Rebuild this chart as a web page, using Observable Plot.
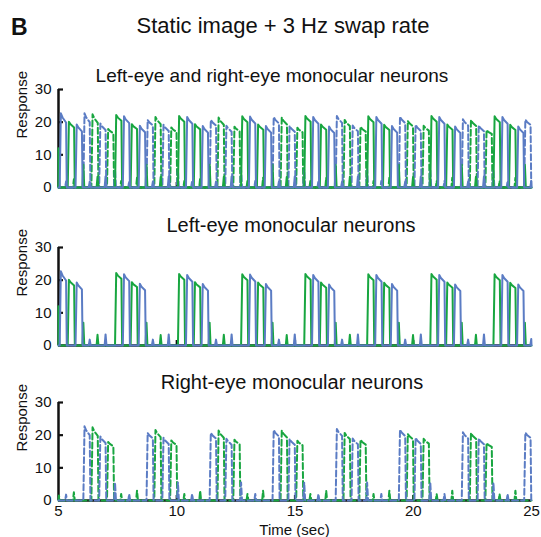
<!DOCTYPE html>
<html><head><meta charset="utf-8">
<script src="https://cdn.jsdelivr.net/npm/d3@7"></script>
<script src="https://cdn.jsdelivr.net/npm/@observablehq/plot@0.6"></script>
<style>
body{margin:0;background:#fff;}
#wrap{position:relative;width:541px;height:537px;overflow:hidden;background:#fff;}
.panel{position:absolute;left:0;}
#titles{position:absolute;left:0;top:0;pointer-events:none;}
</style></head><body>
<div id="wrap"></div>
<script>
// ---- data ----
const xTicks = [5, 10, 15, 20, 25];
const yTicks = [0, 10, 20, 30];

// Left-eye monocular neurons (solid lines): dominant pulses
const leftGreenOn   = [5.39, 7.39, 8.05, 10.05, 10.72, 12.72, 13.39, 15.39, 16.05, 18.05, 18.72, 20.72, 21.39, 23.39, 24.05];
const leftGreenPeak = [20.1, 22.2, 19.4, 21.9, 19.4, 21.8, 19.3, 21.9, 19.3, 21.8, 19.2, 21.9, 19.3, 21.8, 19.2];
const leftGreenEnd  = [18.4, 20.4, 17.9, 20.1, 17.8, 20.0, 17.7, 20.1, 17.7, 20.0, 17.6, 20.1, 17.7, 20.0, 17.6];
const leftGreenBumpT = [5.0, 6.05, 6.65, 8.72, 9.32, 11.39, 11.99, 14.05, 14.65, 16.72, 17.32, 19.39, 19.99, 22.05, 22.65, 24.72];
const leftGreenBumpH = [12, 7, 3.3, 7, 3.2, 7, 3.3, 7, 3.2, 7, 3.3, 7, 3.2, 7, 3.3, 7];

const leftBlueOn   = [5.05, 5.72, 7.72, 8.39, 10.39, 11.05, 13.05, 13.72, 15.72, 16.39, 18.39, 19.05, 21.05, 21.72, 23.72, 24.39];
const leftBluePeak = [22.7, 19.3, 21.8, 18.9, 21.6, 18.8, 21.7, 18.8, 21.6, 18.7, 21.6, 18.8, 21.6, 18.7, 21.6, 18.7];
const leftBlueEnd  = [19.9, 17.2, 19.7, 16.9, 19.5, 16.8, 19.6, 16.8, 19.5, 16.7, 19.5, 16.8, 19.5, 16.7, 19.5, 16.7];
const leftBlueBumpT = [6.32, 6.99, 8.99, 9.66, 11.66, 12.32, 14.32, 14.99, 16.99, 17.66, 19.66, 20.32, 22.32, 22.99, 24.99];
const leftBlueBumpH = [1.8, 3.4, 1.8, 3.4, 1.8, 3.4, 1.8, 3.4, 1.8, 3.4, 1.8, 3.4, 1.8, 3.4, 2.0];

// Right-eye monocular neurons (dashed lines)
const rightBlueOn   = [6.05, 6.72, 8.72, 9.39, 11.39, 12.05, 14.05, 14.72, 16.72, 17.39, 19.39, 20.05, 22.05, 22.72, 24.69];
const rightBluePeak = [22.7, 19.6, 20.7, 19.2, 20.7, 18.9, 21.6, 18.9, 21.9, 19.0, 21.7, 19.2, 20.9, 19.0, 20.8];
const rightBlueEnd  = [20.0, 17.6, 19.0, 17.3, 19.0, 17.1, 19.6, 17.1, 19.8, 17.2, 19.7, 17.3, 19.0, 17.2, 19.2];
const rightBlueBumpT = [5.32, 7.39, 7.99, 10.05, 10.65, 12.72, 13.32, 15.39, 15.99, 18.05, 18.65, 20.72, 21.32, 23.39, 23.99];
const rightBlueBumpH = [1.8, 5.5, 2.0, 5.5, 2.0, 5.5, 2.0, 5.5, 2.0, 5.5, 2.0, 5.5, 2.0, 5.5, 2.0];

const rightGreenOn   = [6.39, 7.05, 9.05, 9.72, 11.72, 12.39, 14.39, 15.05, 17.05, 17.72, 19.72, 20.39, 22.39, 23.05];
const rightGreenPeak = [22.4, 17.9, 21.6, 18.4, 21.4, 18.6, 21.4, 18.3, 20.7, 18.6, 20.4, 18.9, 20.7, 17.6];
const rightGreenEnd  = [19.8, 16.6, 19.4, 17.0, 19.2, 17.2, 19.3, 16.9, 18.8, 17.1, 18.7, 17.4, 18.8, 16.4];
const rightGreenBumpT = [5.02, 5.65, 7.65, 8.32, 10.32, 10.99, 12.99, 13.65, 15.65, 16.32, 18.32, 18.99, 20.99, 21.65, 23.65, 24.32];
const rightGreenBumpH = [1.5, 2.5, 2.0, 3.0, 2.0, 3.0, 2.0, 3.0, 2.0, 3.0, 2.0, 3.0, 2.0, 3.0, 2.0, 3.0];

// ---- build line tables ----
function build(on, peak, end, bumpT, bumpH) {
  const pts = [{t: 5, v: 0}];
  on.forEach((o, i) => {
    const p = peak[i], e = end[i];
    pts.push({t: o, v: 0}, {t: o + 0.05, v: p}, {t: o + 0.12, v: p - 0.45 * (p - e)},
             {t: o + 0.27, v: e}, {t: o + 0.30, v: 0});
  });
  bumpT.forEach((b, i) => pts.push({t: b - 0.04, v: 0}, {t: b, v: bumpH[i]}, {t: b + 0.04, v: 0}));
  pts.push({t: 25, v: 0});
  return pts.filter(d => d.t >= 5 && d.t <= 25).sort((a, b) => a.t - b.t);
}
const LG = build(leftGreenOn, leftGreenPeak, leftGreenEnd, leftGreenBumpT, leftGreenBumpH);
const LB = build(leftBlueOn, leftBluePeak, leftBlueEnd, leftBlueBumpT, leftBlueBumpH);
const RB = build(rightBlueOn, rightBluePeak, rightBlueEnd, rightBlueBumpT, rightBlueBumpH);
const RG = build(rightGreenOn, rightGreenPeak, rightGreenEnd, rightGreenBumpT, rightGreenBumpH);

const GREEN = "#18a640", BLUE = "#5b7cc4", AX = "#111";
const FONT = "Liberation Sans, Arial, Helvetica, sans-serif";

function lineMark(data, color, dashed) {
  return Plot.line(data, {x: "t", y: "v", stroke: color, strokeWidth: 2,
    strokeDasharray: dashed ? "6,3" : null, strokeLinejoin: "round"});
}

function panel(top, lines, showX) {
  const mt = 10, mb = showX ? 30 : 10;
  const marks = [
    Plot.ruleY([0], {x1: 5, x2: 25, stroke: AX, strokeWidth: 2.5}),
    Plot.ruleX([5], {y1: 0, y2: 30, stroke: AX, strokeWidth: 2.5}),
    Plot.ruleY(yTicks.filter(v => v > 0), {x1: 5, x2: 5, insetRight: -5, stroke: AX, strokeWidth: 2.2}),
    Plot.ruleX(xTicks.slice(1, -1), {y1: 0, y2: 0, insetBottom: 5, stroke: AX, strokeWidth: 2.2}),
    Plot.axisY({ticks: yTicks, tickSize: 0, tickPadding: 7, fontSize: 15, label: null}),
    Plot.text(["Response"], {text: d => d, frameAnchor: "left", dx: -36, rotate: -90, fontSize: 15, fill: AX}),
    ...lines
  ];
  if (showX) marks.push(Plot.axisX({ticks: xTicks, tickSize: 0, tickPadding: 5, fontSize: 15, label: null}));
  const svg = Plot.plot({
    width: 541, height: 98 + mt + mb,
    marginLeft: 58, marginRight: 10, marginTop: mt, marginBottom: mb,
    x: {domain: [5, 25], axis: showX ? undefined : null},
    y: {domain: [0, 30]},
    style: {fontFamily: FONT, fontSize: "15px", color: AX, background: "white", overflow: "visible"},
    marks
  });
  svg.classList.add("panel");
  svg.style.position = "absolute";
  svg.style.top = (top - mt) + "px";
  svg.style.left = "0px";
  return svg;
}

const wrap = document.getElementById("wrap");
wrap.appendChild(panel(89, [lineMark(RG, GREEN, true), lineMark(RB, BLUE, true), lineMark(LG, GREEN, false), lineMark(LB, BLUE, false)], false));
wrap.appendChild(panel(247, [lineMark(LG, GREEN, false), lineMark(LB, BLUE, false)], false));
wrap.appendChild(panel(402, [lineMark(RG, GREEN, true), lineMark(RB, BLUE, true)], true));

// titles
const ns = "http://www.w3.org/2000/svg";
const tsvg = document.createElementNS(ns, "svg");
tsvg.setAttribute("id", "titles");
tsvg.setAttribute("width", 541); tsvg.setAttribute("height", 537);
const texts = [
  {x: 11, y: 35, s: 23, w: "bold", a: "start", t: "B"},
  {x: 283, y: 33, s: 22, a: "middle", t: "Static image + 3 Hz swap rate"},
  {x: 272, y: 82, s: 19, a: "middle", t: "Left-eye and right-eye monocular neurons"},
  {x: 291, y: 232, s: 20, a: "middle", t: "Left-eye monocular neurons"},
  {x: 292, y: 389, s: 20, a: "middle", t: "Right-eye monocular neurons"},
  {x: 294.5, y: 535, s: 15, a: "middle", t: "Time (sec)"}
];
for (const d of texts) {
  const el = document.createElementNS(ns, "text");
  el.setAttribute("x", d.x); el.setAttribute("y", d.y);
  el.setAttribute("font-size", d.s); el.setAttribute("font-family", FONT);
  el.setAttribute("text-anchor", d.a); el.setAttribute("fill", AX);
  if (d.w) el.setAttribute("font-weight", d.w);
  el.textContent = d.t;
  tsvg.appendChild(el);
}
wrap.appendChild(tsvg);
</script>
</body></html>
